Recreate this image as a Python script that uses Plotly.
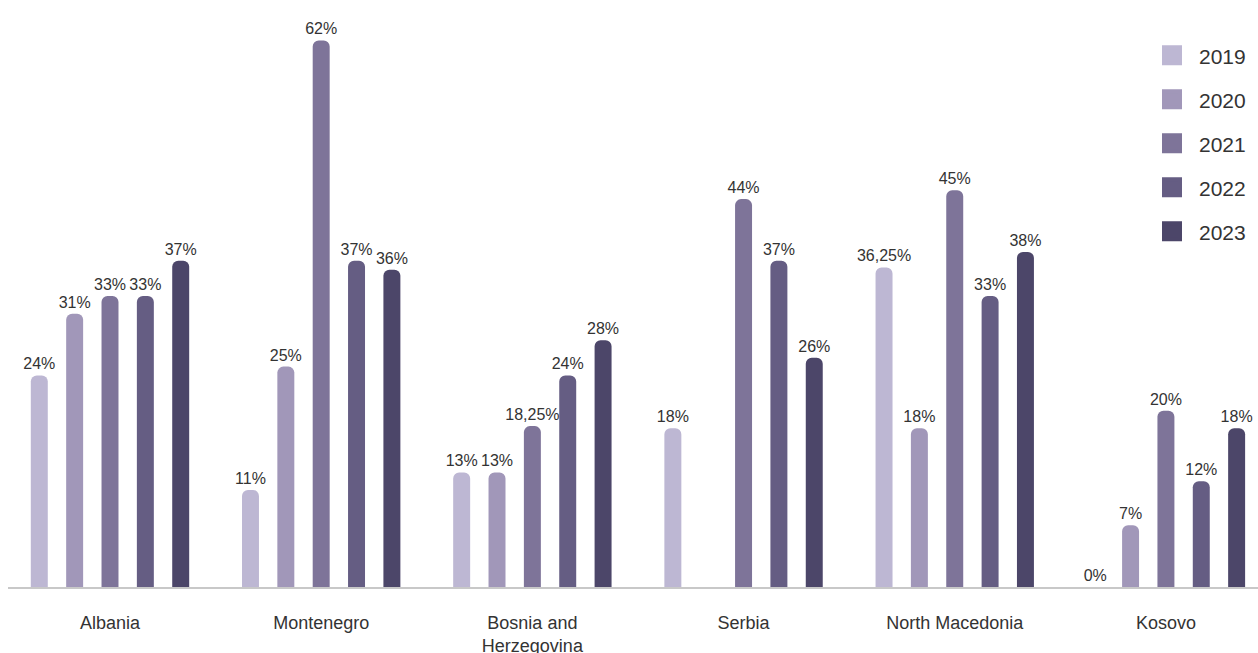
import plotly.graph_objects as go

countries = ["Albania", "Montenegro", "Bosnia and<br>Herzegovina", "Serbia",
             "North Macedonia", "Kosovo"]
years = ["2019", "2020", "2021", "2022", "2023"]

v2019 = [24, 11, 13, 18, 36.25, 0]
v2020 = [31, 25, 13, None, 18, 7]
v2021 = [33, 62, 18.25, 44, 45, 20]
v2022 = [33, 37, 24, 37, 33, 12]
v2023 = [37, 36, 28, 26, 38, 18]

series = [v2019, v2020, v2021, v2022, v2023]
colors = ["#bdb7d3", "#a197b9", "#7e7499", "#655d83", "#4c4669"]

FONT = "Liberation Sans, Arial, sans-serif"


def fmt(v):
    if v is None:
        return ""
    s = f"{v:g}".replace(".", ",")
    return s + "%"


fig = go.Figure()
x = list(range(len(countries)))
for year, vals, col in zip(years, series, colors):
    fig.add_trace(go.Bar(
        x=x, y=vals, name=year,
        marker=dict(color=col, cornerradius=6, line=dict(width=0)),
        text=[fmt(v) for v in vals],
        textposition="outside",
        constraintext="none",
        cliponaxis=False,
        textfont=dict(family=FONT, size=16, color="#333333"),
        showlegend=False,
        hoverinfo="skip",
    ))

# Legend entries drawn as square markers (outline widens the capped legend icon)
for year, col in zip(years, colors):
    fig.add_trace(go.Scatter(
        x=[None], y=[None], mode="markers", name=year,
        legendgroup=year,
        marker=dict(symbol="square", size=16, color=col,
                    line=dict(color=col, width=4)),
    ))

fig.update_layout(
    width=1258, height=653,
    margin=dict(l=8, r=0, t=14, b=66),
    paper_bgcolor="white", plot_bgcolor="white",
    barmode="group", bargap=0.163, bargroupgap=0.52,
    font=dict(family=FONT, color="#333333"),
    legend=dict(
        x=0.9096, y=0.963, xanchor="left", yanchor="top",
        font=dict(family=FONT, size=21, color="#333333"),
        tracegroupgap=13.7, itemsizing="trace", itemwidth=44,
        bgcolor="rgba(0,0,0,0)",
    ),
    xaxis=dict(
        tickmode="array", tickvals=x, ticktext=countries,
        range=[-0.483, 5.436],
        showgrid=False, zeroline=False, automargin=False,
        showline=True, linecolor="#c8c8c8", linewidth=2,
        ticks="", ticklabelstandoff=18,
        tickfont=dict(family=FONT, size=18, color="#333333"),
    ),
    yaxis=dict(range=[0, 65], visible=False, showgrid=False, zeroline=False),
)

fig.write_html("out.html")
